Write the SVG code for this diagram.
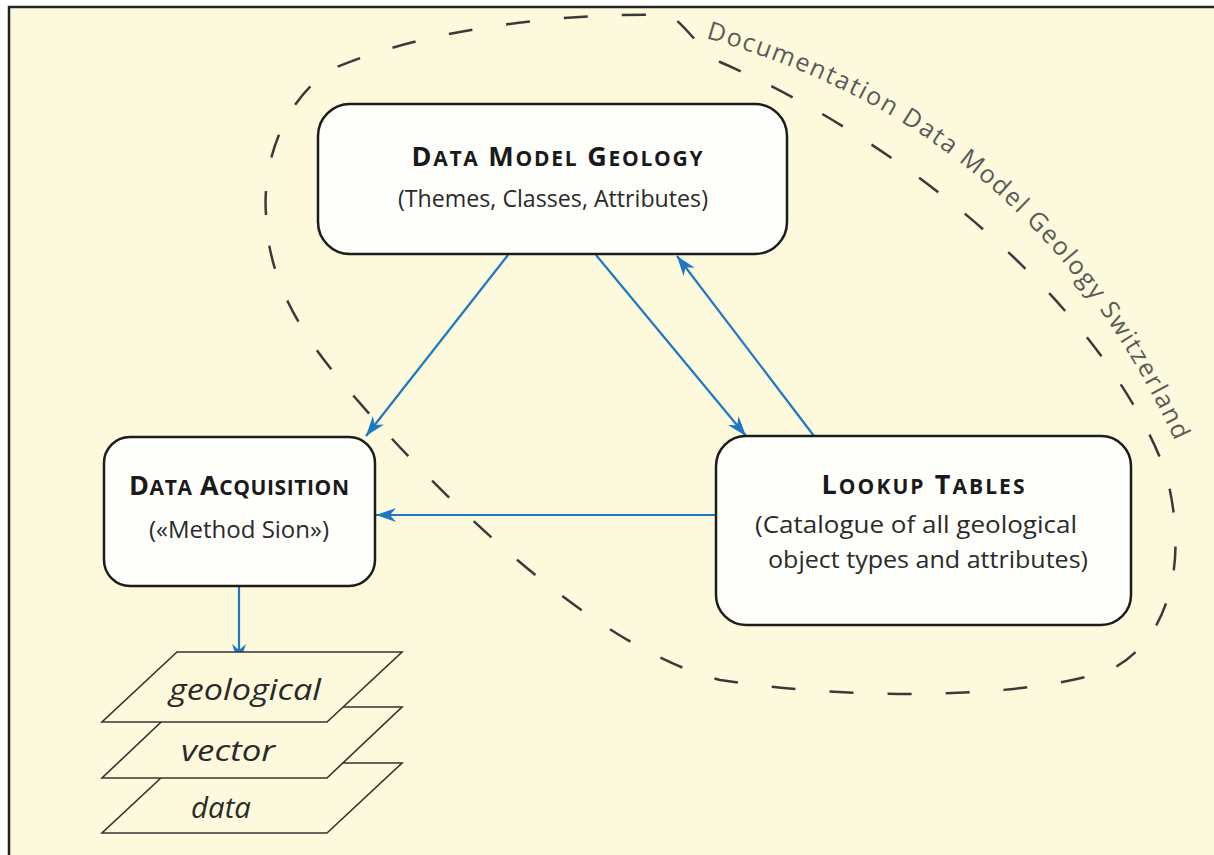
<svg xmlns="http://www.w3.org/2000/svg" width="1214" height="855" viewBox="0 0 1214 855">
<defs>
<style>
.box{fill:#fefefb;stroke:#1c1c1c;stroke-width:2.5}
.h{font-family:"Open Sans","Noto Sans",sans-serif;font-weight:bold;fill:#1a1a1a;text-anchor:middle;font-size:27px}
.h tspan.sc{font-size:21px}
.s{font-family:"Open Sans","Noto Sans",sans-serif;fill:#2a2a2a;text-anchor:middle;font-size:24px}
.c{stroke:#1f78c1;stroke-width:2.2;fill:none}
.layer{fill:#fdf9dc;stroke:#333;stroke-width:1.6}
.lt{font-family:"Open Sans","Noto Sans",sans-serif;font-style:italic;fill:#2a2a2a;font-size:29px;text-anchor:middle}
</style>
<marker id="arr" markerUnits="userSpaceOnUse" markerWidth="22" markerHeight="16" refX="20" refY="7" orient="auto">
<path d="M0,0 L20,7 L0,14 L6,7 Z" fill="#1f78c1"/>
</marker>
<path id="lbl" d="M706,38 C850,80 1060,170 1188,470"/>
</defs>
<rect x="0" y="0" width="1214" height="855" fill="#ffffff"/>
<rect x="9" y="7" width="1205" height="848" fill="#fdf9dc"/>
<path d="M9,855 L9,7 L1214,7" fill="none" stroke="#222" stroke-width="2.5"/>

<g id="boundary">
<path d="M266,215 C262,160 285,100 330,70 C420,30 560,12 670,15 C690,30 700,50 720,62 C900,140 1100,300 1165,470 C1190,560 1170,640 1110,670 C1020,700 850,700 720,680 C600,650 450,510 340,380 C290,320 268,270 266,215 Z" fill="none" stroke="#3a3a3a" stroke-width="2.5" stroke-dasharray="24 34"/>
<text font-family="'Open Sans','Noto Sans',sans-serif" font-size="25" fill="#5a5a5a"><textPath href="#lbl" textLength="640" lengthAdjust="spacing">Documentation Data Model Geology Switzerland</textPath></text>
</g>

<g id="connectors">
<line class="c" x1="508" y1="255" x2="366" y2="436" marker-end="url(#arr)"/>
<line class="c" x1="596" y1="255" x2="746" y2="436" marker-end="url(#arr)"/>
<line class="c" x1="814" y1="436" x2="677" y2="256" marker-end="url(#arr)"/>
<line class="c" x1="716" y1="515" x2="376" y2="515" marker-end="url(#arr)"/>
<line class="c" x1="239" y1="586" x2="239" y2="664" marker-end="url(#arr)"/>
</g>

<g id="data-model-geology">
<rect class="box" x="318" y="104" width="469" height="150" rx="32"/>
<text class="h" x="557" y="166" textLength="291" lengthAdjust="spacing">D<tspan class="sc">ATA</tspan> M<tspan class="sc">ODEL</tspan> G<tspan class="sc">EOLOGY</tspan></text>
<text class="s" x="553" y="207" textLength="310" lengthAdjust="spacingAndGlyphs">(Themes, Classes, Attributes)</text>
</g>

<g id="data-acquisition">
<rect class="box" x="104" y="437" width="271" height="149" rx="26"/>
<text class="h" x="239" y="495" textLength="220" lengthAdjust="spacing">D<tspan class="sc">ATA</tspan> A<tspan class="sc">CQUISITION</tspan></text>
<text class="s" x="239" y="538">(«Method Sion»)</text>
</g>

<g id="lookup-tables">
<rect class="box" x="716" y="436" width="415" height="189" rx="30"/>
<text class="h" x="923" y="494" textLength="203" lengthAdjust="spacing">L<tspan class="sc">OOKUP</tspan> T<tspan class="sc">ABLES</tspan></text>
<text class="s" x="916" y="533" textLength="322" lengthAdjust="spacingAndGlyphs">(Catalogue of all geological</text>
<text class="s" x="928" y="568" textLength="320" lengthAdjust="spacingAndGlyphs">object types and attributes)</text>
</g>

<g id="vector-data">
<polygon class="layer" points="177,763 402,763 327,833 102,833"/>
<polygon class="layer" points="177,707 402,707 327,778 102,778"/>
<polygon class="layer" points="177,652 402,652 327,722 102,722"/>
<text class="lt" x="245" y="700" textLength="152" lengthAdjust="spacingAndGlyphs">geological</text>
<text class="lt" x="228" y="761" textLength="94" lengthAdjust="spacingAndGlyphs">vector</text>
<text class="lt" x="221" y="818" textLength="60" lengthAdjust="spacingAndGlyphs">data</text>
</g>
</svg>
